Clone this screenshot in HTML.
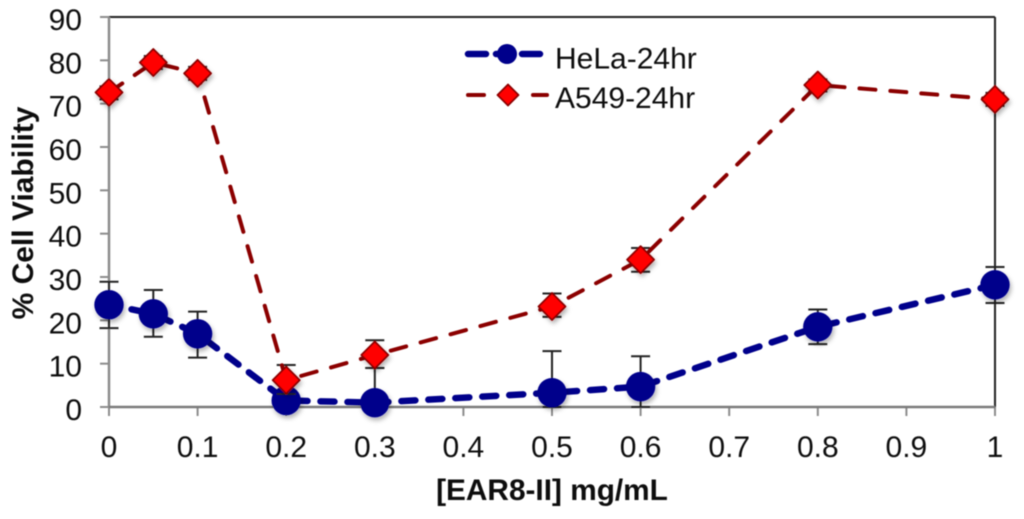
<!DOCTYPE html>
<html>
<head>
<meta charset="utf-8">
<title>Cell viability chart</title>
<style>
html,body{margin:0;padding:0;background:#fff;width:1024px;height:519px;overflow:hidden}
svg{display:block}
text{font-family:"Liberation Sans",Arial,sans-serif;fill:#111}
</style>
</head>
<body>
<svg id="chart" xmlns="http://www.w3.org/2000/svg" width="1024" height="519" viewBox="0 0 1024 519">
  <defs>
    <filter id="soft" x="-5%" y="-5%" width="110%" height="110%"><feGaussianBlur stdDeviation="0.55"/></filter>
    <filter id="shadow" x="-50%" y="-50%" width="200%" height="200%"><feDropShadow dx="1.5" dy="3" stdDeviation="2.5" flood-color="#000" flood-opacity="0.3"/></filter>
  </defs>
  <g id="root" filter="url(#soft)">
    <g id="axes"></g>
    <g id="series"></g>
    <g id="legend"></g>
    <text x="33" y="213" transform="rotate(-90 33 213)" text-anchor="middle" font-size="30" font-weight="bold">% Cell Viability</text>
    <text x="552" y="500" text-anchor="middle" font-size="29.8" font-weight="bold">[EAR8-II] mg/mL</text>
  </g>
</svg>
<script>
const xTicks = [0, 0.1, 0.2, 0.3, 0.4, 0.5, 0.6, 0.7, 0.8, 0.9, 1];
const yTicks = [0, 10, 20, 30, 40, 50, 60, 70, 80, 90];
const concentrations = [0, 0.05, 0.1, 0.2, 0.3, 0.5, 0.6, 0.8, 1];
const helaValues = [23.6, 21.5, 16.9, 1.5, 1, 3.3, 4.7, 18.5, 28.2];
const helaUpper = [28.9, 27, 22, 3.5, 9, 12.9, 11.7, 22.5, 32.3];
const helaLower = [18.2, 16.2, 11.4, 0.5, 0, 0, 0, 14.5, 24];
const a549Values = [72.6, 79.5, 77, 6.2, 12, 23.2, 34, 74.3, 71];
const a549Upper = [74, 81, 78.5, 9.7, 15.4, 26.2, 36.7, 75.6, 72.5];
const a549Lower = [71, 78, 75.5, 3, 9, 20.8, 31.2, 72.8, 69.5];

const NS = 'http://www.w3.org/2000/svg';
const xScale = v => 109 + v * 886;
const yScale = v => 407 - v * (390 / 90);
function make(parent, tag, attrs, text) {
  const el = document.createElementNS(NS, tag);
  for (const k in attrs) el.setAttribute(k, attrs[k]);
  if (text !== undefined) el.textContent = text;
  parent.appendChild(el);
  return el;
}
const axes = document.getElementById('axes');
const seriesRoot = document.getElementById('series');
const legend = document.getElementById('legend');

const plotTop = make(axes, 'line', {x1: xScale(0), x2: xScale(1), y1: yScale(90), y2: yScale(90), stroke: '#222', 'stroke-width': 2});


const plotRight = make(axes, 'line', {x1: xScale(1), x2: xScale(1), y1: yScale(90), y2: yScale(0), stroke: '#222', 'stroke-width': 2});



yTicks.forEach(t => {
  const tick = make(axes, 'line', {x1: 100, x2: xScale(0), y1: yScale(t), y2: yScale(t), stroke: '#8c8c8c', 'stroke-width': 2});
  
  
  const label = make(axes, 'text', {x: 82, y: yScale(t) + 13, 'text-anchor': 'end', 'font-size': 30}, String(t));
  
  
});
xTicks.forEach(t => {
  const tick = make(axes, 'line', {x1: xScale(t), x2: xScale(t), y1: yScale(0), y2: 416, stroke: '#8c8c8c', 'stroke-width': 2});
  
  
  const label = make(axes, 'text', {x: xScale(t), y: 457, 'text-anchor': 'middle', 'font-size': 30}, String(t));
  
  
});
const yAxisLine = make(axes, 'line', {x1: xScale(0), x2: xScale(0), y1: yScale(90), y2: yScale(0), stroke: '#8c8c8c', 'stroke-width': 2.5});


const xAxisLine = make(axes, 'line', {x1: xScale(0), x2: xScale(1), y1: yScale(0), y2: yScale(0), stroke: '#7a7a7a', 'stroke-width': 2.5});



function errorBars(values, upper, lower) {
  concentrations.forEach((c, i) => {
    const x = xScale(c);
    const stem = make(seriesRoot, 'line', {x1: x, x2: x, y1: yScale(upper[i]), y2: yScale(lower[i]), stroke: '#222', 'stroke-width': 2});
    
    
    [upper[i], lower[i]].forEach(v => {
      const cap = make(seriesRoot, 'line', {x1: x - 9.5, x2: x + 9.5, y1: yScale(v), y2: yScale(v), stroke: '#222', 'stroke-width': 2});
      
      
    });
  });
}
function pointsOf(values) {
  return concentrations.map((c, i) => xScale(c) + ',' + yScale(values[i])).join(' ');
}
function diamond(parent, cx, cy, r) {
  const pts = (cx) + ',' + (cy - r) + ' ' + (cx + r) + ',' + cy + ' ' + cx + ',' + (cy + r) + ' ' + (cx - r) + ',' + cy;
  return make(parent, 'polygon', {points: pts, fill: '#ff0000', stroke: '#8b0000', 'stroke-width': 1.8, 'stroke-linejoin': 'round'});
}

errorBars(helaValues, helaUpper, helaLower);
const helaLine = make(seriesRoot, 'polyline', {points: pointsOf(helaValues), fill: 'none', stroke: '#00008b', 'stroke-width': 6.5, 'stroke-linecap': 'round', 'stroke-dasharray': '14 13', 'stroke-dashoffset': 4});


helaValues.forEach((v, i) => {
  const m = make(seriesRoot, 'circle', {cx: xScale(concentrations[i]), cy: yScale(v), r: 14.7, fill: '#00008b', filter: 'url(#shadow)'});
  
  
});

errorBars(a549Values, a549Upper, a549Lower);
const a549Line = make(seriesRoot, 'polyline', {points: pointsOf(a549Values), fill: 'none', stroke: '#8b0000', 'stroke-width': 4, 'stroke-linecap': 'round', 'stroke-dasharray': '16 15'});


a549Values.forEach((v, i) => {
  const m = diamond(seriesRoot, xScale(concentrations[i]), yScale(v), 13.5);
  m.setAttribute('filter', 'url(#shadow)');
  
  
});

[[468, 486], [522, 540]].forEach(seg => {
  const d = make(legend, 'line', {x1: seg[0], x2: seg[1], y1: 54, y2: 54, stroke: '#00008b', 'stroke-width': 6.5, 'stroke-linecap': 'round'});
  
  
});
const helaDashMid = make(legend, 'line', {x1: 496, x2: 508, y1: 54, y2: 54, stroke: '#00008b', 'stroke-width': 6.5, 'stroke-linecap': 'round'});


const legendCircle = make(legend, 'circle', {cx: 507, cy: 54, r: 10, fill: '#00008b'});


const legendHela = make(legend, 'text', {x: 555, y: 68.5, 'font-size': 30}, 'HeLa-24hr');



[[468, 484], [533, 547]].forEach(seg => {
  const d = make(legend, 'line', {x1: seg[0], x2: seg[1], y1: 95, y2: 95, stroke: '#8b0000', 'stroke-width': 4, 'stroke-linecap': 'round'});
  
  
});
const legendDiamond = diamond(legend, 508, 95, 10.5);


const legendA549 = make(legend, 'text', {x: 555, y: 108, 'font-size': 30}, 'A549-24hr');


</script>
</body>
</html>
